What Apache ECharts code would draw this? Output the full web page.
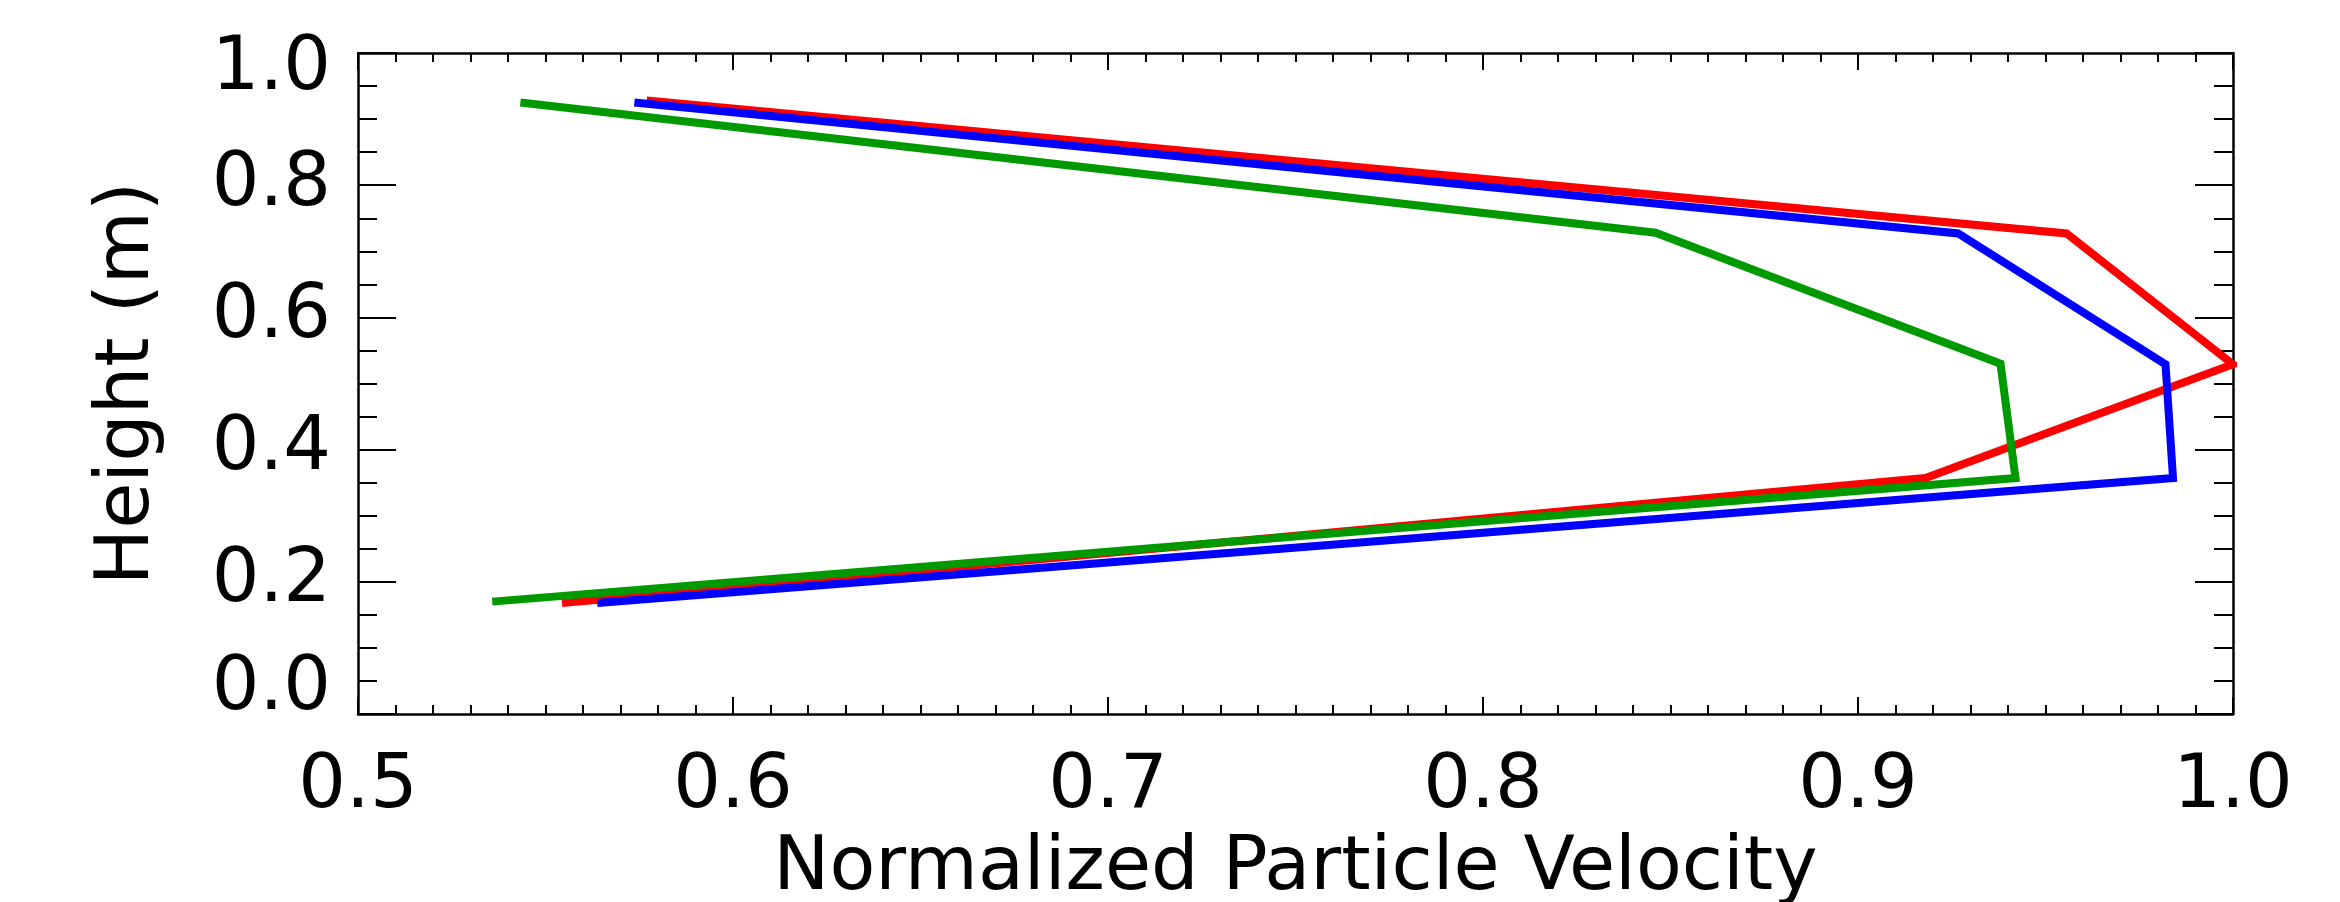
<!DOCTYPE html>
<html>
<head>
<meta charset="utf-8">
<script src="https://cdn.jsdelivr.net/npm/echarts@6/dist/echarts.min.js"></script>
<style>
  html, body { margin: 0; padding: 0; background: #fff; }
  #chart { width: 2340px; height: 902px; }
</style>
</head>
<body>
<div id="chart"></div>
<script>
// ---- data ----
const heights   = [0.928, 0.727, 0.529, 0.357, 0.168];
const redVel    = [0.577, 0.9556, 1.000, 0.918, 0.5544];
const heightsB  = [0.925, 0.727, 0.529, 0.357, 0.168];
const blueVel   = [0.5737, 0.9267, 0.982, 0.984, 0.5638];
const heightsG  = [0.925, 0.728, 0.530, 0.357, 0.170];
const greenVel  = [0.5433, 0.846, 0.938, 0.942, 0.5358];

const xTicks = ['0.5', '0.6', '0.7', '0.8', '0.9', '1.0'];
const yTicks = ['0.0', '0.2', '0.4', '0.6', '0.8', '1.0'];
const xTitle = 'Normalized Particle Velocity';
const yTitle = 'Height (m)';

function pairs(xs, ys) { return xs.map((x, i) => [x, ys[i]]); }

const FONT = 'DejaVu Sans';
const FS = 75;
const axisLineStyle = { color: '#000', width: 2.5 };

const chart = echarts.init(document.getElementById('chart'), null, { renderer: 'canvas' });

const xBase = {
  type: 'value', min: 0.5, max: 1.0, interval: 0.1,
  axisLine: { show: true, onZero: false, lineStyle: axisLineStyle },
  axisTick: { show: true, inside: true, length: 17, lineStyle: { color: '#000', width: 2 } },
  minorTick: { show: true, splitNumber: 10, length: 9, lineStyle: { color: '#000', width: 2 } },
  splitLine: { show: false },
  minorSplitLine: { show: false }
};
const yBase = {
  type: 'value', min: 0.0, max: 1.0, interval: 0.2,
  axisLine: { show: true, onZero: false, lineStyle: axisLineStyle },
  axisTick: { show: true, inside: true, length: 38, lineStyle: { color: '#000', width: 2 } },
  minorTick: { show: true, splitNumber: 4, length: 19, lineStyle: { color: '#000', width: 2 } },
  splitLine: { show: false },
  minorSplitLine: { show: false }
};

const labelFont = { fontFamily: FONT, fontSize: FS, lineHeight: FS, color: '#000' };

chart.setOption({
  animation: false,
  backgroundColor: '#fff',
  grid: { left: 358, right: 107, top: 53, bottom: 188, containLabel: false, outerBoundsMode: 'none' },
  xAxis: [
    Object.assign({}, xBase, {
      position: 'bottom',
      name: xTitle, nameLocation: 'middle', nameGap: 118,
      nameTextStyle: { fontFamily: FONT, fontSize: FS, lineHeight: FS, color: '#000' },
      axisLabel: Object.assign({ show: true, margin: 36,
        formatter: v => xTicks[Math.round((v - 0.5) / 0.1)] }, labelFont)
    }),
    Object.assign({}, xBase, { position: 'top', axisLabel: { show: false } })
  ],
  yAxis: [
    Object.assign({}, yBase, {
      position: 'left',
      name: yTitle, nameLocation: 'middle', nameGap: 192,
      nameTextStyle: { fontFamily: FONT, fontSize: FS, lineHeight: FS, color: '#000' },
      axisLabel: Object.assign({ show: true, margin: 27,
        formatter: v => {
          const s = yTicks[Math.round(v / 0.2)];
          if (Math.abs(v - 1) < 1e-9) return '{hi|' + s + '}';
          if (Math.abs(v) < 1e-9) return '{lo|' + s + '}';
          return s;
        },
        rich: {
          hi: Object.assign({ padding: [33, 0, 0, 0] }, labelFont),
          lo: Object.assign({ padding: [0, 0, 49, 0] }, labelFont)
        }
      }, labelFont)
    }),
    Object.assign({}, yBase, { position: 'right', axisLabel: { show: false } })
  ],
  series: [
    { name: 'red', type: 'line', xAxisIndex: 0, yAxisIndex: 0, data: pairs(redVel, heights),
      showSymbol: false, symbol: 'none', clip: false,
      lineStyle: { color: '#ff0000', width: 8, join: 'miter' }, z: 2 },
    { name: 'blue', type: 'line', xAxisIndex: 0, yAxisIndex: 0, data: pairs(blueVel, heightsB),
      showSymbol: false, symbol: 'none', clip: false,
      lineStyle: { color: '#0000ff', width: 8, join: 'miter' }, z: 3 },
    { name: 'green', type: 'line', xAxisIndex: 0, yAxisIndex: 0, data: pairs(greenVel, heightsG),
      showSymbol: false, symbol: 'none', clip: false,
      lineStyle: { color: '#009a00', width: 8, join: 'miter' }, z: 4 }
  ]
});
</script>
</body>
</html>
